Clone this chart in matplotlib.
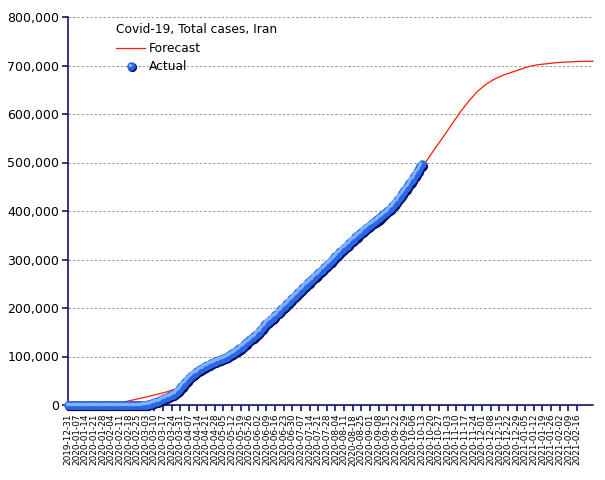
import matplotlib
matplotlib.use("Agg")
import matplotlib.pyplot as plt
import matplotlib.transforms as mtransforms
from matplotlib.lines import Line2D
import pandas as pd

# ---------------- data ----------------
title = "Covid-19, Total cases, Iran"
series_names = ["Forecast", "Actual"]

actual_start = "2019-12-31"
# daily cumulative cases
actual_cases = [0] * 53 + [
    2, 5, 18, 28, 43, 61, 95, 139, 245, 388, 593,
    978, 1501, 2336, 2922, 3513, 4747, 5823, 6566, 7161, 8042, 9000, 10075, 11364, 12729, 13938,
    14991, 16169, 17361, 18407, 19644, 20610, 21638, 23049, 24811, 27017, 29406, 32332, 35408,
    38309, 41495, 44605,
    47593, 50468, 53183, 55743, 58226, 60500, 62589, 64586, 66220, 68192, 70029, 71686, 73303,
    74877, 76389, 77995, 79494, 80868, 82211, 83505, 84802, 85996, 87026, 88194, 89328, 90481,
    91472, 92584, 93657, 94640,
    95646, 96448, 97424, 98647, 99970, 101650, 103135, 104691, 106220, 107603, 109286, 110767,
    112725, 114533, 116635, 118392, 120198, 122492, 124603, 126949, 129341, 131652, 133521,
    135701, 137724, 139511, 141591, 143849, 146668, 148950, 151466,
    154445, 157562, 160696, 164270, 167156, 169425, 171789, 173832, 175927, 177938, 180156,
    182525, 184955, 187427, 189876, 192439, 195051, 197647, 200262, 202584, 204952, 207525,
    209970, 212501, 215096, 217724, 220180, 222669, 225205, 227662,
    230211, 232863, 235429, 237878, 240438, 243051, 245688, 248379, 250458, 252720, 255117,
    257303, 259652, 262173, 264561, 267061, 269440, 271606, 273788, 276202, 278827, 281413,
    284034, 286523, 288839, 291172, 293606, 296273, 298909, 301530, 304204,
    306752, 309437, 312035, 314786, 317483, 320117, 322567, 324692, 326712, 328844, 331189,
    333699, 336324, 338825, 341070, 343203, 345450, 347835, 350279, 352558, 354764, 356792,
    358905, 361150, 363363, 365606, 367796, 369911, 371816, 373570, 375212,
    376894, 378752, 380746, 382772, 384666, 386658, 388810, 391112, 393425, 395488, 397801,
    399940, 402029, 404648, 407353, 410334, 413149, 416198, 419043, 422140, 425481, 429193,
    432798, 436319, 439882, 443086, 446448, 449960, 453637, 457219,
    461044, 464596, 468119, 471772, 475674, 479825, 483844, 488236, 492378, 496253,
]

forecast_start = "2020-02-14"   # weekly points, then final point
forecast_end = "2021-03-01"
forecast_values = [
    6000, 10000, 14000, 18000, 22500, 27000, 33000, 42000, 52000, 61000, 71000, 84000,
    96000, 109000, 123000, 138000, 156000, 175000, 191000, 209000, 227000, 245000, 261000,
    278000, 295000, 314000, 330000, 347000, 362000, 376000, 390000, 406000, 428000, 452000,
    478000, 500000, 526000, 551000, 577000, 603000, 626000, 646000, 661000, 672000, 680000,
    686000, 692000, 698000, 701500, 703500, 705500, 706800, 707700, 708300, 708700,
    708800,
]

tick_start = "2019-12-31"
tick_end = "2021-02-16"
y_ticks = [0, 100000, 200000, 300000, 400000, 500000, 600000, 700000, 800000]
x_min, x_max = "2019-12-31", "2021-03-01"

# ---------------- figure ----------------
W, H = 605, 480
fig = plt.figure(figsize=(W / 100, H / 100), dpi=100)
ax = fig.add_axes([68 / W, 75 / H, (593 - 68) / W, (405 - 17) / H])

navy = "#000066"

actual_dates = pd.date_range(actual_start, periods=len(actual_cases), freq="D")
fc_dates = list(pd.date_range(forecast_start, periods=len(forecast_values) - 1, freq="7D")) + [pd.Timestamp(forecast_end)]

ax.plot(fc_dates, forecast_values, color="#ff1a00", lw=0.9, zorder=3, clip_on=False)

px = 72 / 100.0
def off(dx, dy):
    return mtransforms.offset_copy(ax.transData, fig=fig, x=dx * px, y=dy * px, units="points")

ms = 9.2 * px
ax.plot(actual_dates, actual_cases, ls="none", marker="o", ms=ms, mew=0, color="#00105e",
        transform=off(1.2, -1.2), zorder=4, clip_on=False)
ax.plot(actual_dates, actual_cases, ls="none", marker="o", ms=ms * 0.92, mew=0, color="#2a66e6",
        zorder=5, clip_on=False)
ax.plot(actual_dates, actual_cases, ls="none", marker="o", ms=3.4 * px, mew=0, color="#7fb2ff",
        transform=off(-1.4, 1.4), zorder=6, clip_on=False)

ax.set_xlim(pd.Timestamp(x_min), pd.Timestamp(x_max))
ax.set_ylim(0, 800000)

ticks = pd.date_range(tick_start, tick_end, freq="7D")
ax.set_xticks(ticks)
ax.set_xticklabels([t.strftime("%Y-%m-%d") for t in ticks], rotation=90, fontsize=6.4,
                   color="black")
ax.set_yticks(y_ticks)
ax.set_yticklabels([f"{v:,}" for v in y_ticks], fontsize=9)
ax.tick_params(axis="x", length=4.3, width=1.1, color=navy, pad=2)
ax.tick_params(axis="y", length=4.3, width=1.1, color=navy, pad=2)

for s in ["top", "right"]:
    ax.spines[s].set_visible(False)
for s in ["left", "bottom"]:
    ax.spines[s].set_color(navy)
    ax.spines[s].set_linewidth(1.1)

ax.grid(axis="y", color="#9a9a9a", lw=0.7, ls=(0, (2.5, 2)))
ax.set_axisbelow(True)
for gl in ax.get_ygridlines():
    gl.set_clip_on(False)

# legend (drawn manually in pixel positions)
def fx(x): return x / W
def fy(y): return 1 - y / H
fig.text(fx(116), fy(29), title, fontsize=8.8, va="center", ha="left")
fig.add_artist(Line2D([fx(116), fx(145)], [fy(48), fy(48)], color="#ff1a00", lw=0.9))
fig.text(fx(149), fy(48), series_names[0], fontsize=8.8, va="center", ha="left")
fig.add_artist(Line2D([fx(131.8)], [fy(67.2)], marker="o", ms=ms, mew=0, color="#00105e"))
fig.add_artist(Line2D([fx(131)], [fy(66)], marker="o", ms=ms * 0.92, mew=0, color="#2a66e6"))
fig.add_artist(Line2D([fx(129.6)], [fy(64.6)], marker="o", ms=3.4 * px, mew=0, color="#7fb2ff"))
fig.text(fx(149), fy(66), series_names[1], fontsize=8.8, va="center", ha="left")

fig.savefig("out.png", dpi=100)
